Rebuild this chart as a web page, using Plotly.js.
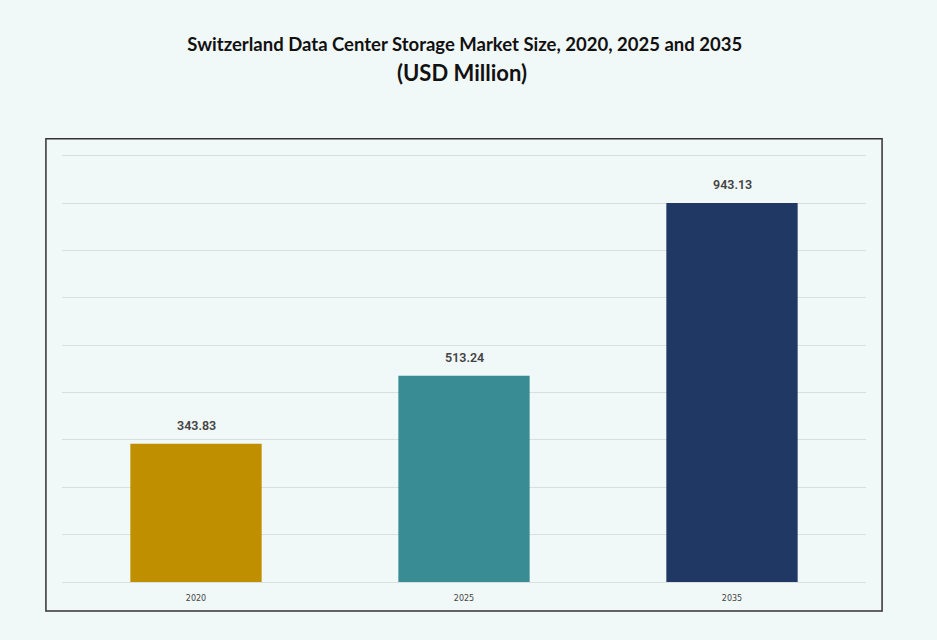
<!DOCTYPE html>
<html>
<head>
<meta charset="utf-8">
<script src="https://cdn.plot.ly/plotly-3.0.1.min.js"></script>
<style>
	html, body { margin: 0; padding: 0; background: #f1f8f8; }
	#myDiv { width: 937px; height: 640px; }
</style>
</head>
<body>
<div id="myDiv"></div>
<script>
// values (USD million)
var years = ['2020', '2025', '2035'];
var marketSize = [343.83, 513.24, 943.13];
var barColors = ['#c08f00', '#3a8c94', '#203864'];

// gridline step so the 2035 bar sits on the 8th line, like the original
var gridStep = 943.13 / 8;

var bars = {
	type: 'bar',
	x: years,
	y: marketSize,
	marker: {color: barColors},
	hoverinfo: 'none'
};

// value labels above each bar (x given as category index)
var valueLabels = marketSize.map(function (v, i) {
	return {
		x: i,
		y: v,
		xref: 'x', yref: 'y',
		text: v.toFixed(2),
		showarrow: false,
		yanchor: 'bottom',
		yshift: 9,
		font: {family: 'Roboto, sans-serif', size: 12.5, color: '#444444', weight: 600}
	};
});

var layout = {
	width: 937,
	height: 640,
	paper_bgcolor: '#f1f8f8',
	plot_bgcolor: '#f1f8f8',
	showlegend: false,
	bargap: 0.51,
	margin: {l: 62, r: 71, t: 151, b: 58},
	title: {
		text: 'Switzerland Data Center Storage Market Size, 2020, 2025 and 2035',
		font: {family: 'Lato, sans-serif', size: 18.5, color: '#111111', weight: 'bold'},
		x: 0.496,
		xanchor: 'center',
		y: 0.931,
		yanchor: 'middle'
	},
	annotations: valueLabels.concat([{
		text: '(USD Million)',
		xref: 'paper', yref: 'paper',
		x: 0.497, y: 1.182,
		xanchor: 'center', yanchor: 'middle',
		showarrow: false,
		font: {family: 'Lato, sans-serif', size: 22, color: '#111111', weight: 'bold'}
	}]),
	xaxis: {
		type: 'category',
		range: [-0.5, 2.5],
		showgrid: false,
		showline: false,
		zeroline: false,
		ticks: '',
		tickfont: {family: 'DejaVu Sans, sans-serif', size: 8, color: '#444444'},
		ticklabelstandoff: 10
	},
	yaxis: {
		range: [0, gridStep * 9.1],
		tick0: 0,
		dtick: gridStep,
		showticklabels: false,
		gridcolor: '#d9dfdf',
		gridwidth: 1,
		zeroline: true,
		zerolinecolor: '#d9dfdf',
		showline: false
	},
	shapes: [{
		type: 'rect',
		xref: 'paper', yref: 'paper',
		x0: -0.02, x1: 1.02,
		y0: -0.0673, y1: 1.0286,
		line: {color: '#333333', width: 1.5},
		fillcolor: 'rgba(0,0,0,0)',
		layer: 'below'
	}]
};

var config = {
	staticPlot: true,
	displaylogo: false
};

Plotly.newPlot('myDiv', [bars], layout, config);
</script>
</body>
</html>
